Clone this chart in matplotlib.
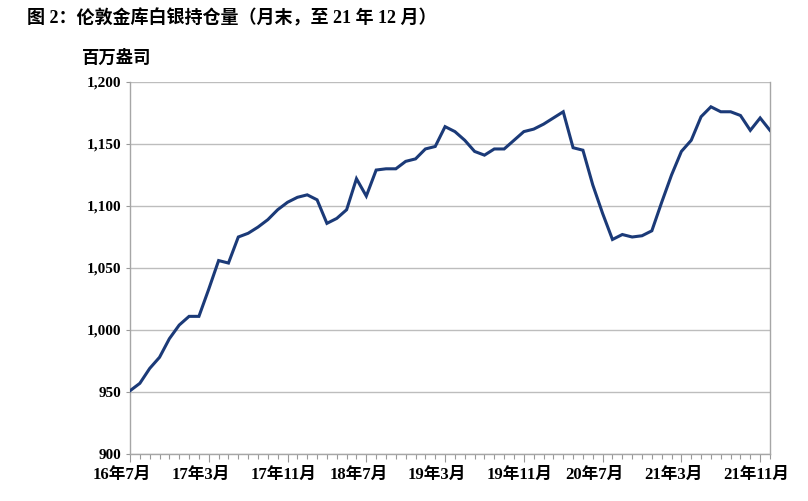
import numpy as np
import matplotlib.pyplot as plt
import matplotlib.transforms as mtransforms
from matplotlib.ticker import FuncFormatter, MultipleLocator

# monthly London vault silver holdings, 16/7 .. 21/12 (million oz)
holdings = [
    951, 957, 969, 978, 993, 1004, 1011, 1011, 1033, 1056,
    1054, 1075, 1078, 1083, 1089, 1097, 1103, 1107, 1109, 1105,
    1086, 1090, 1097, 1122, 1108, 1129, 1130, 1130, 1136, 1138,
    1146, 1148, 1164, 1160, 1153, 1144, 1141, 1146, 1146, 1153,
    1160, 1162, 1166, 1171, 1176, 1147, 1145, 1117, 1094, 1073,
    1077, 1075, 1076, 1080, 1103, 1125, 1144, 1153, 1172, 1180,
    1176, 1176, 1173, 1161, 1171, 1161,
]
tick_idx = [0, 8, 16, 24, 32, 40, 48, 56, 64]
tick_labels = ['16年7月', '17年3月', '17年11月', '18年7月', '19年3月',
               '19年11月', '20年7月', '21年3月', '21年11月']

title = '图 2：伦敦金库白银持仓量（月末，至 21 年 12 月）'
unit = '百万盎司'

fam = ['Liberation Serif', 'Noto Sans CJK SC', 'DejaVu Sans']
plt.rcParams['font.family'] = fam
plt.rcParams['font.weight'] = 'bold'

fig = plt.figure(figsize=(8.08, 5.01), dpi=100)
ax = fig.add_axes([130 / 808, 1 - 454 / 501, 640 / 808, 372 / 501])

x = np.arange(len(holdings))
ax.plot(x, holdings, color='#1B3A78', lw=2.2, solid_joinstyle='miter', zorder=3)

ax.set_xlim(0, len(holdings) - 1)
ax.set_ylim(900, 1200)
ax.yaxis.set_major_locator(MultipleLocator(50))
ax.yaxis.set_major_formatter(FuncFormatter(lambda v, p: f'{int(v):,}'))
ax.grid(axis='y', color='#BDBDBD', lw=1.0)
ax.set_axisbelow(True)

ax.set_xticks(tick_idx)
ax.set_xticklabels(tick_labels)
ax.set_xticks(x, minor=True)
ax.tick_params(axis='x', which='major', length=6, width=0.8, color='#999999',
               labelsize=12, pad=3)
ax.tick_params(axis='x', which='minor', length=3.5, width=0.8, color='#999999')
ax.tick_params(axis='y', length=3, width=0.8, color='#999999', labelsize=11, pad=3)

shift = mtransforms.ScaledTranslation(-37 / 100, 0, fig.dpi_scale_trans)
for lab in ax.get_xticklabels():
    lab.set_horizontalalignment('left')
    lab.set_transform(lab.get_transform() + shift)

for s in ['left', 'right', 'bottom']:
    ax.spines[s].set_color('#A6A6A6')
    ax.spines[s].set_linewidth(1.0)
ax.spines['top'].set_visible(False)

fig.text(27 / 808, 1 - 18 / 501, title, fontsize=13, fontweight='bold',
         va='center', ha='left')
fig.text(82 / 808, 1 - 58 / 501, unit, fontsize=12.5, fontweight='bold',
         va='center', ha='left')

fig.savefig('out.png', dpi=100, facecolor='white')
